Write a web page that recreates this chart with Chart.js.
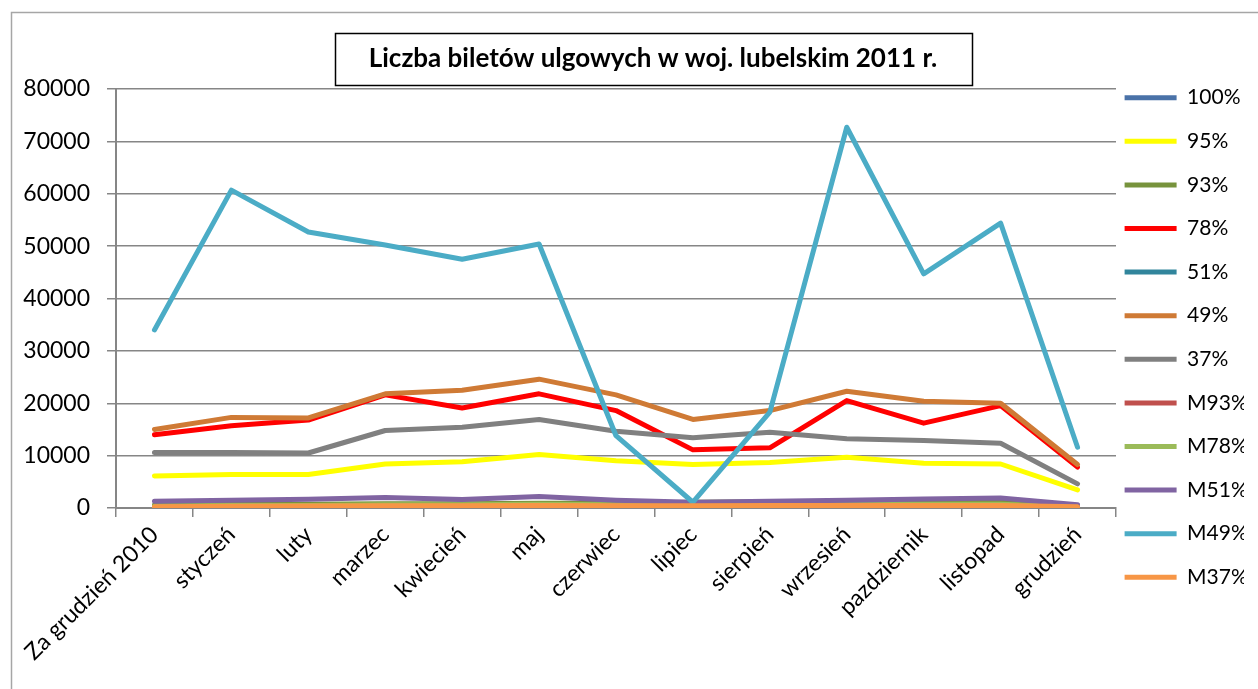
<!DOCTYPE html>
<html>
<head>
<meta charset="utf-8">
<script src="https://cdn.jsdelivr.net/npm/chart.js@4/dist/chart.umd.min.js"></script>
<style>
  html, body { margin: 0; padding: 0; background: #fff; }
  canvas { display: block; }
</style>
</head>
<body>
<canvas id="chart" width="1258" height="689"></canvas>
<script>
const titleText = "Liczba biletów ulgowych w woj. lubelskim 2011 r.";

const months = ["Za grudzień 2010", "styczeń", "luty", "marzec", "kwiecień", "maj",
  "czerwiec", "lipiec", "sierpień", "wrzesień", "pazdziernik", "listopad", "grudzień"];

const seriesNames = ["100%", "95%", "93%", "78%", "51%", "49%", "37%", "M93%", "M78%", "M51%", "M49%", "M37%"];
const seriesColors = ["#4A72A8", "#FFFF00", "#77933C", "#FF0000", "#31859C", "#CF7A35",
  "#808080", "#C0504D", "#9BBB59", "#8064A2", "#4BACC6", "#F79646"];

// values
const v100 = [60, 70, 70, 80, 80, 90, 60, 50, 60, 70, 70, 70, 20];
const v95 = [6100, 6400, 6400, 8400, 8850, 10200, 9000, 8300, 8700, 9700, 8550, 8400, 3450];
const v93 = [600, 700, 700, 800, 800, 900, 900, 1100, 1200, 1200, 1100, 1100, 300];
const v78 = [14000, 15700, 16800, 21600, 19100, 21800, 18600, 11100, 11500, 20500, 16200, 19550, 7800];
const v51 = [100, 120, 120, 150, 150, 160, 120, 100, 110, 130, 120, 130, 40];
const v49 = [15000, 17300, 17200, 21800, 22500, 24600, 21600, 16900, 18600, 22300, 20400, 20000, 8300];
const v37 = [10600, 10600, 10500, 14800, 15400, 16900, 14650, 13400, 14450, 13200, 12900, 12350, 4600];
const vM93 = [50, 60, 60, 70, 70, 80, 60, 50, 60, 60, 60, 60, 20];
const vM78 = [400, 500, 500, 600, 600, 700, 600, 700, 800, 800, 700, 700, 200];
const vM51 = [1270, 1500, 1650, 2000, 1600, 2200, 1500, 1100, 1300, 1500, 1700, 1900, 600];
const vM49 = [34000, 60700, 52700, 50200, 47500, 50400, 13800, 1100, 18300, 72700, 44700, 54400, 11600];
const vM37 = [250, 350, 400, 450, 450, 500, 450, 450, 500, 500, 500, 500, 250];

const allValues = [v100, v95, v93, v78, v51, v49, v37, vM93, vM78, vM51, vM49, vM37];

const FONT = "Lato";
const axisGray = "#868686";
const TITLE_SIZE = 26;

const datasets = allValues.map((vals, i) => ({
  label: seriesNames[i],
  data: vals,
  borderColor: seriesColors[i],
  backgroundColor: seriesColors[i],
  borderWidth: 5,
  borderCapStyle: "round",
  borderJoinStyle: "round",
  pointRadius: 0,
  pointHoverRadius: 0,
  tension: 0,
  fill: false,
  order: allValues.length - i   // later series on top, like Excel
}));

// white page, frame, nudges and the box around the title
const pagePlugin = {
  id: "page",
  beforeDraw(chart) {
    const ctx = chart.ctx;
    ctx.save();
    ctx.fillStyle = "#fff";
    ctx.fillRect(0, 0, chart.width, chart.height);
    ctx.strokeStyle = "#a6a6a6";
    ctx.lineWidth = 1.5;
    ctx.beginPath();
    ctx.moveTo(11.5, chart.height);
    ctx.lineTo(11.5, 12.5);
    ctx.lineTo(chart.width, 12.5);
    ctx.stroke();
    ctx.restore();
  },
  afterLayout(chart) {
    const tb = chart.titleBlock;
    tb.left += 37; tb.right += 37;
    const lg = chart.legend;
    lg.left -= 14; lg.right -= 14;
    lg.top -= 7; lg.bottom -= 7;
  },
  afterDraw(chart) {
    const ctx = chart.ctx;
    const tb = chart.titleBlock;
    ctx.save();
    ctx.font = "bold " + TITLE_SIZE + "px " + FONT;
    const w = ctx.measureText(titleText).width;
    const cx = (tb.left + tb.right) / 2;
    const cy = tb.top + 43.4 + TITLE_SIZE * 0.6;
    ctx.strokeStyle = "#000";
    ctx.lineWidth = 1.5;
    ctx.strokeRect(Math.round(cx - w / 2 - 34) + 0.5, Math.round(cy - 26) + 0.5, Math.round(w + 68), 52);
    ctx.restore();
  }
};

new Chart(document.getElementById("chart"), {
  type: "line",
  data: { labels: months, datasets: datasets },
  plugins: [pagePlugin],
  options: {
    responsive: false,
    animation: false,
    events: [],
    layout: { padding: { top: 0, left: 0, right: 0, bottom: 0 } },
    plugins: {
      tooltip: { enabled: false },
      title: {
        display: true,
        text: titleText,
        fullSize: false,
        color: "#000",
        font: { family: FONT, size: TITLE_SIZE, weight: "bold", lineHeight: 1.2 },
        padding: { top: 43.4, bottom: 14.4 }
      },
      legend: {
        position: "right",
        maxWidth: 142,
        labels: {
          usePointStyle: true,
          pointStyle: "line",
          pointStyleWidth: 52,
          color: "#000",
          font: { family: FONT, size: 21 },
          padding: 22.6,
          sort: (a, b) => a.datasetIndex - b.datasetIndex
        }
      }
    },
    scales: {
      x: {
        offset: true,
        afterFit(scale) { scale.height = 181; },
        grid: { offset: true, drawOnChartArea: false, drawTicks: true, tickLength: 9, color: axisGray, lineWidth: 1.5 },
        border: { color: axisGray, width: 2 },
        ticks: {
          autoSkip: false, maxRotation: 45, minRotation: 45,
          color: "#000", font: { family: FONT, size: 23 }, padding: 4
        }
      },
      y: {
        min: 0,
        max: 80000,
        afterFit(scale) { scale.width = 116; },
        grid: { color: axisGray, lineWidth: 1.5, tickLength: 9 },
        border: { color: axisGray, width: 2 },
        ticks: {
          stepSize: 10000,
          color: "#000",
          font: { family: FONT, size: 23 },
          padding: 17,
          callback: (v) => String(v)
        }
      }
    }
  }
});
</script>
</body>
</html>
